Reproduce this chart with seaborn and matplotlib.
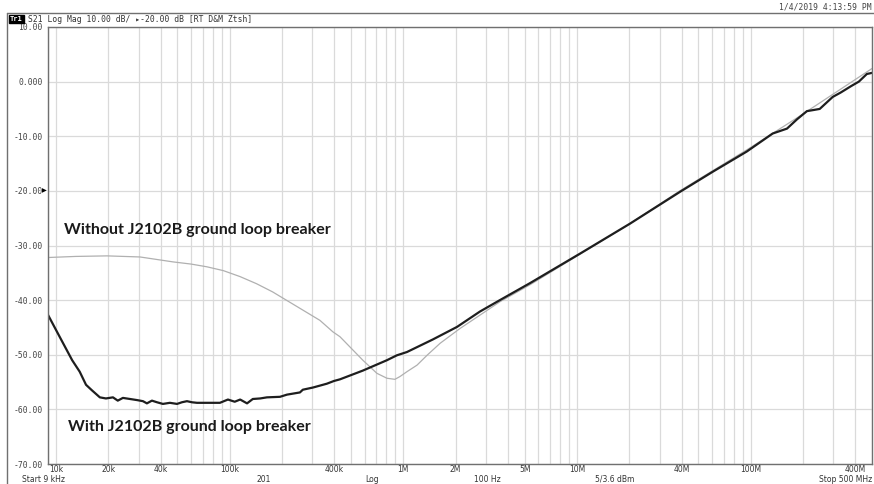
import numpy as np
import pandas as pd
import seaborn as sns
import matplotlib.pyplot as plt
import matplotlib.transforms as mtransforms
from matplotlib.lines import Line2D
from matplotlib.ticker import LogLocator, NullFormatter


# S21 trace with the ground loop breaker (Hz, dB)
freq_with = [9.0e3, 10.5e3, 12.4e3, 13.7e3, 14.9e3, 16.1e3, 17.9e3, 19.4e3, 21.3e3, 22.7e3,
             24.3e3, 26.7e3, 29.3e3, 31.7e3, 33.4e3, 35.7e3, 38.2e3, 41.3e3, 45.3e3, 49.8e3,
             53.1e3, 56.8e3, 60.7e3, 64.9e3, 74.0e3, 87.9e3, 97.8e3, 107e3, 115e3, 126e3,
             136e3, 150e3, 164e3, 195e3, 214e3, 254e3, 264e3, 302e3, 363e3, 399e3,
             432e3, 585e3, 805e3, 919e3, 1.05e6, 1.48e6, 2.04e6, 2.76e6, 3.60e6, 5.36e6,
             10.4e6, 20.2e6, 39.1e6, 60.5e6, 95.0e6, 134e6, 162e6, 185e6, 211e6, 230e6,
             250e6, 297e6, 330e6, 380e6, 420e6, 467e6, 500e6]
db_with = [-42.7, -46.7, -51.0, -53.1, -55.5, -56.5, -57.8, -58.0, -57.8, -58.4,
           -57.9, -58.1, -58.3, -58.5, -58.9, -58.4, -58.7, -59.0, -58.8, -59.0,
           -58.7, -58.5, -58.7, -58.8, -58.8, -58.8, -58.2, -58.6, -58.2, -58.9,
           -58.1, -58.0, -57.8, -57.7, -57.3, -56.9, -56.4, -56.0, -55.3, -54.8,
           -54.5, -52.9, -51.0, -50.1, -49.5, -47.2, -44.9, -42.1, -40.0, -36.9,
           -31.5, -26.0, -20.2, -16.5, -12.8, -9.5, -8.6, -6.9, -5.4, -5.2,
           -5.0, -2.8, -2.0, -0.8, 0.0, 1.4, 1.6]

# S21 trace without the ground loop breaker (Hz, dB)
freq_without = [9.0e3, 13.0e3, 19.7e3, 30.5e3, 47.2e3, 60.0e3, 74.0e3, 92.0e3, 115e3, 143e3,
                177e3, 212e3, 254e3, 331e3, 393e3, 432e3, 585e3, 705e3, 805e3, 895e3,
                956e3, 1.05e6, 1.20e6, 1.37e6, 1.63e6, 2.12e6, 2.87e6, 3.60e6, 5.36e6, 10.4e6,
                20.2e6, 39.1e6, 95.0e6, 190e6, 500e6]
db_without = [-32.2, -32.0, -31.9, -32.1, -33.0, -33.4, -33.9, -34.6, -35.7, -37.0,
              -38.5, -40.0, -41.5, -43.7, -45.8, -46.7, -51.0, -53.4, -54.3, -54.5,
              -54.0, -53.1, -51.9, -50.1, -47.9, -45.2, -42.4, -40.3, -37.2, -31.6,
              -26.0, -20.0, -12.5, -6.4, 2.4]

x_ticks = [1e4, 2e4, 4e4, 1e5, 4e5, 1e6, 2e6, 5e6, 1e7, 4e7, 1e8, 4e8]
x_labels = ['10k', '20k', '40k', '100k', '400k', '1M', '2M', '5M', '10M', '40M', '100M', '400M']
y_ticks = [10, 0, -10, -20, -30, -40, -50, -60, -70]
y_labels = ['10.00', '0.000', '-10.00', '-20.00', '-30.00', '-40.00', '-50.00', '-60.00', '-70.00']

df_with = pd.DataFrame({'freq': freq_with, 'S21': db_with})
df_without = pd.DataFrame({'freq': freq_without, 'S21': db_without})

sns.set_style('white')
plt.rcParams['font.family'] = ['DejaVu Sans']

fig = plt.figure(figsize=(8.74, 4.84), dpi=100)
ax = fig.add_axes([48 / 874, 20 / 484, 824 / 874, 437 / 484])

sns.lineplot(data=df_without, x='freq', y='S21', color='#b0b0b0', lw=0.9,
             sort=False, estimator=None, ax=ax)
sns.lineplot(data=df_with, x='freq', y='S21', color='#1e1e1e', lw=1.6,
             sort=False, estimator=None, ax=ax)

ax.set_xscale('log')
ax.set_xlim(9e3, 5e8)
ax.set_ylim(-70, 10)
ax.set_xlabel('')
ax.set_ylabel('')

ax.set_xticks(x_ticks)
ax.set_xticklabels(x_labels, fontsize=5.5, color='#333333')
ax.xaxis.set_minor_locator(LogLocator(base=10, subs=np.arange(1, 10), numticks=50))
ax.xaxis.set_minor_formatter(NullFormatter())
ax.set_yticks(y_ticks)
ax.set_yticklabels(y_labels, fontsize=5.8, color='#444444', family='DejaVu Sans Mono')
ax.tick_params(axis='both', which='both', length=0)
ax.tick_params(axis='x', pad=1)
ax.tick_params(axis='y', pad=4)

ax.grid(True, which='both', color='#dadada', lw=0.9)
ax.set_axisbelow(True)
for s in ax.spines.values():
    s.set_color('#707070')
    s.set_linewidth(1.0)

# reference level marker
trans = mtransforms.blended_transform_factory(ax.transAxes, ax.transData)
ax.text(-0.001, -20, '\u25B6', transform=trans, ha='right', va='center',
        fontsize=4.5, color='black')

ax.text(11.1e3, -27.2, 'Without J2102B ground loop breaker', fontsize=11.5,
        fontweight='bold', family='Lato', color='#1a1a1a', va='center')
ax.text(11.7e3, -63.2, 'With J2102B ground loop breaker', fontsize=11.5,
        fontweight='bold', family='Lato', color='#1a1a1a', va='center')

# instrument frame and header
fig.add_artist(Line2D([7 / 874, 1], [1 - 13 / 484, 1 - 13 / 484], color='#707070', lw=1.0))
fig.add_artist(Line2D([7 / 874, 7 / 874], [0, 1 - 13 / 484], color='#707070', lw=1.0))
fig.text(10 / 874, 1 - 19 / 484, 'Tr1', fontsize=5, color='white', fontweight='bold',
         family='DejaVu Sans Mono', va='center',
         bbox=dict(facecolor='black', edgecolor='black', pad=0.6))
fig.text(28 / 874, 1 - 19 / 484, 'S21 Log Mag 10.00 dB/ \u25B8-20.00 dB [RT D&M Ztsh]',
         fontsize=5.75, color='#333333', family='DejaVu Sans Mono', va='center')
fig.text(872 / 874, 1 - 7 / 484, '1/4/2019 4:13:59 PM', fontsize=5.75, color='#444444',
         family='DejaVu Sans Mono', va='center', ha='right')

fig.text(22 / 874, 1 - 479 / 484, 'Start 9 kHz', fontsize=5.5, color='#333333', va='center')
fig.text(264 / 874, 1 - 479 / 484, '201', fontsize=5.5, color='#333333', va='center', ha='center')
fig.text(372 / 874, 1 - 479 / 484, 'Log', fontsize=5.5, color='#333333', va='center', ha='center')
fig.text(487 / 874, 1 - 479 / 484, '100 Hz', fontsize=5.5, color='#333333', va='center', ha='center')
fig.text(615 / 874, 1 - 479 / 484, '5/3.6 dBm', fontsize=5.5, color='#333333', va='center', ha='center')
fig.text(872 / 874, 1 - 479 / 484, 'Stop 500 MHz', fontsize=5.5, color='#333333', va='center',
         ha='right')

fig.savefig('out.png', dpi=100)
